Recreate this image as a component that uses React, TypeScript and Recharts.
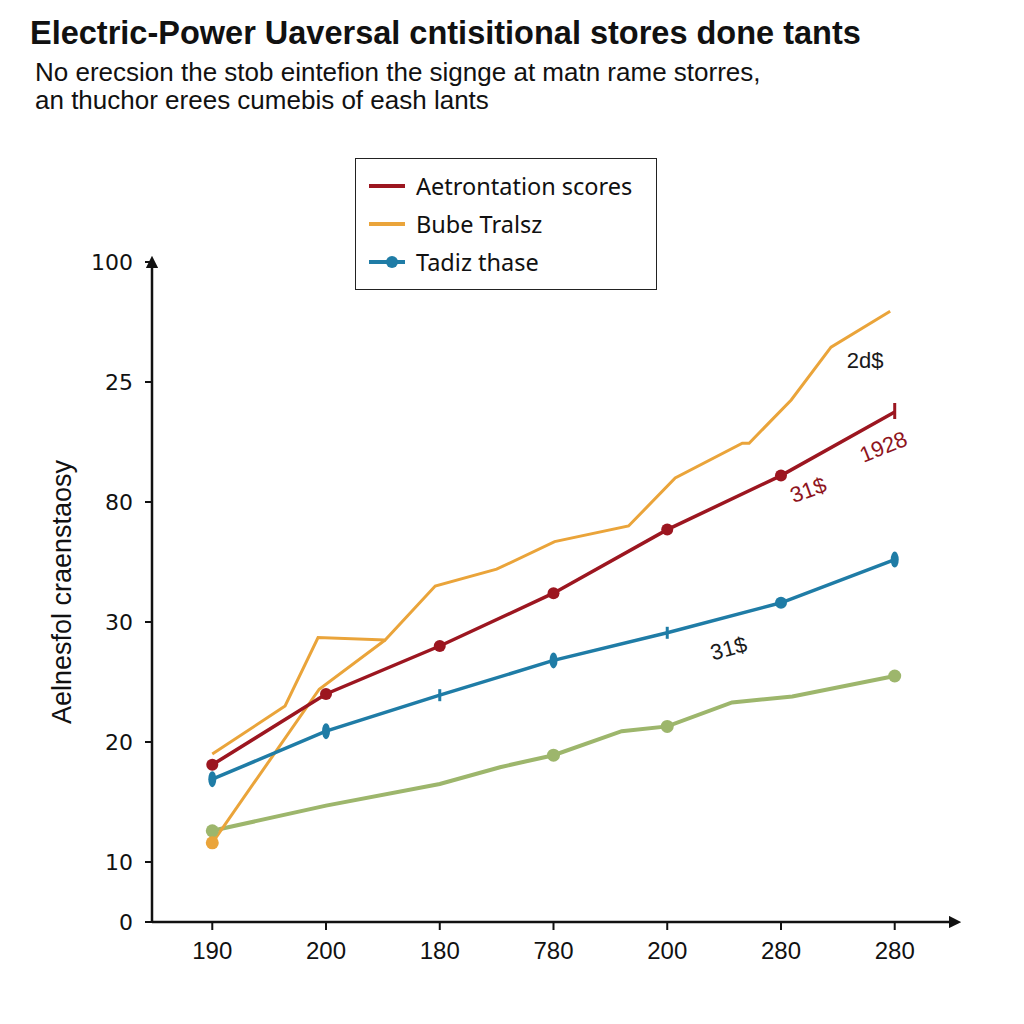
import React from "react";
import {
  Legend,
  Line,
  LineChart,
  ReferenceDot,
  XAxis,
  YAxis
} from "recharts";

// x positions are category slots (0..6), y values are in axis units
const xTickLabels = ["190", "200", "180", "780", "200", "280", "280"];
const xTicks = [0, 1, 2, 3, 4, 5, 6];
const yTicks = [5, 10, 20, 30, 40, 50, 60];
const yTickLabels = ["0", "10", "20", "30", "80", "25", "100"];

const redX = [0, 1, 2, 3, 4, 5, 6];
const redY = [18.1, 24.0, 28.0, 32.4, 37.7, 42.2, 47.5];

const orangeX = [0, 0.64, 0.93, 1.52, 1.96, 2.5, 3.01, 3.66, 4.07, 4.66, 4.72, 5.09, 5.44, 5.96];
const orangeY = [19.0, 23.0, 28.7, 28.5, 33.0, 34.4, 36.7, 38.0, 42.0, 44.9, 44.9, 48.5, 52.9, 55.9];

const orangeLowX = [0, 0.94, 1.52];
const orangeLowY = [11.6, 24.4, 28.5];

const blueX = [0, 1, 2, 3, 4, 5, 6];
const blueY = [16.9, 20.9, 23.9, 26.8, 29.1, 31.6, 35.2];

const greenX = [0, 1, 2, 2.53, 3, 3.6, 4, 4.57, 5.1, 6];
const greenY = [12.6, 14.7, 16.5, 17.9, 18.9, 20.9, 21.3, 23.3, 23.8, 25.5];

const annotations = [
  { x: 5.74, y: 51.8, text: "2d$", color: "#1a1a1a", angle: 0 },
  { x: 5.9, y: 44.6, text: "1928", color: "#8e1420", angle: -22 },
  { x: 5.24, y: 41.0, text: "31$", color: "#8e1420", angle: -20 },
  { x: 4.54, y: 27.8, text: "31$", color: "#1a1a1a", angle: -15 }
];

const toPoints = (xs: number[], ys: number[]) =>
  xs.map((x, i) => ({ x, y: ys[i] }));

const redData = toPoints(redX, redY);
const orangeData = toPoints(orangeX, orangeY);
const orangeLowData = toPoints(orangeLowX, orangeLowY);
const blueData = toPoints(blueX, blueY);
const greenData = toPoints(greenX, greenY);

const RED = "#9c1620";
const ORANGE = "#eaa43a";
const BLUE = "#1f7ca6";
const GREEN = "#9db66c";

const markerSeries = new Set(["Tadiz thase"]);

function RedDot(props: any) {
  const { cx, cy, index } = props;
  if (index === 6) {
    return <line key={index} x1={cx} y1={cy - 9} x2={cx} y2={cy + 7} stroke={RED} strokeWidth={3} />;
  }
  return <circle key={index} cx={cx} cy={cy} r={6} fill={RED} />;
}

function BlueDot(props: any) {
  const { cx, cy, index } = props;
  if (index === 5) return <circle key={index} cx={cx} cy={cy} r={6} fill={BLUE} />;
  if (index === 2 || index === 4) {
    return <line key={index} x1={cx} y1={cy - 6} x2={cx} y2={cy + 6} stroke={BLUE} strokeWidth={3} />;
  }
  return <ellipse key={index} cx={cx} cy={cy} rx={4} ry={8} fill={BLUE} />;
}

const greenDotIdx = new Set([0, 4, 6, 9]);
function GreenDot(props: any) {
  const { cx, cy, index } = props;
  if (!greenDotIdx.has(index)) return <g key={index} />;
  return <circle key={index} cx={cx} cy={cy} r={6.5} fill={GREEN} />;
}

function OrangeLowDot(props: any) {
  const { cx, cy, index } = props;
  if (index !== 0) return <g key={index} />;
  return <circle key={index} cx={cx} cy={cy} r={6.5} fill={ORANGE} />;
}

function LegendBox(props: any) {
  const items = (props.payload || []).filter((p: any) => p.type !== "none");
  return (
    <div
      style={{
        border: "1.5px solid #222",
        background: "#fff",
        padding: "8px 12px",
        width: 276,
        fontFamily: "'Noto Sans', sans-serif",
        fontSize: 23.5,
        color: "#111",
        textAlign: "left"
      }}
    >
      {items.map((item: any) => (
        <div key={item.value} style={{ display: "flex", alignItems: "center", height: 38 }}>
          <svg width={38} height={14} style={{ marginRight: 10 }}>
            <line x1={1} y1={7} x2={37} y2={7} stroke={item.color} strokeWidth={4} />
            {markerSeries.has(item.value) ? <circle cx={24} cy={7} r={6} fill={item.color} /> : null}
          </svg>
          <span>{item.value}</span>
        </div>
      ))}
    </div>
  );
}

function AnnotationShape(props: any) {
  const { cx, cy, text, color, angle } = props;
  return (
    <text
      x={cx}
      y={cy}
      fill={color}
      fontSize={22}
      fontFamily="'Liberation Sans', sans-serif"
      textAnchor="middle"
      dominantBaseline="central"
      transform={`rotate(${angle} ${cx} ${cy})`}
    >
      {text}
    </text>
  );
}

function YLabel(props: any) {
  const { viewBox } = props;
  const x = viewBox.x + 62;
  const y = viewBox.y + viewBox.height / 2;
  return (
    <text
      x={x}
      y={y}
      fontSize={27}
      fill="#111"
      fontFamily="'Liberation Sans', sans-serif"
      textAnchor="middle"
      dominantBaseline="central"
      transform={`rotate(-90 ${x} ${y})`}
    >
      Aelnesfol craenstaosy
    </text>
  );
}

export default function App() {
  return (
    <div
      style={{
        position: "absolute",
        left: 0,
        top: 0,
        width: 1024,
        height: 1024,
        background: "#fff",
        overflow: "hidden"
      }}
    >
      <svg width={0} height={0} style={{ position: "absolute" }}>
        <defs>
          <marker id="arrowHead" viewBox="0 0 10 10" refX="5" refY="5" markerWidth="5" markerHeight="5" orient="auto-start-reverse">
            <path d="M0,0 L10,5 L0,10 z" fill="#111" />
          </marker>
        </defs>
      </svg>
      <div
        style={{
          position: "absolute",
          left: 30,
          top: 15,
          fontFamily: "'Liberation Sans', sans-serif",
          fontWeight: 700,
          fontSize: 32.5,
          color: "#111",
          whiteSpace: "nowrap"
        }}
      >
        Electric-Power Uaversal cntisitional stores done tants
      </div>
      <div
        style={{
          position: "absolute",
          left: 35,
          top: 58,
          fontFamily: "'Liberation Sans', sans-serif",
          fontSize: 26,
          lineHeight: "28px",
          color: "#111",
          whiteSpace: "nowrap"
        }}
      >
        No erecsion the stob eintefion the signge at matn rame storres,
        <br />
        an thuchor erees cumebis of eash lants
      </div>
      <LineChart
        width={1024}
        height={1024}
        margin={{ top: 262, right: 69, bottom: 42, left: 0 }}
        style={{ position: "absolute", left: 0, top: 0 }}
      >
        <XAxis
          dataKey="x"
          type="number"
          domain={[-0.53, 6.53]}
          ticks={xTicks}
          allowDataOverflow
          height={60}
          tickSize={8}
          tickMargin={12}
          tickFormatter={(v: number) => xTickLabels[v] ?? ""}
          axisLine={{ stroke: "#111", strokeWidth: 2.5, markerEnd: "url(#arrowHead)" }}
          tickLine={{ stroke: "#111", strokeWidth: 2 }}
          tick={{ fill: "#111", fontSize: 24, fontFamily: "'Liberation Sans', sans-serif" }}
        />
        <YAxis
          dataKey="y"
          type="number"
          domain={[5, 60]}
          ticks={yTicks}
          allowDataOverflow
          width={152}
          tickSize={7}
          tickMargin={12}
          tickFormatter={(v: number) => yTickLabels[yTicks.indexOf(v)] ?? ""}
          axisLine={{ stroke: "#111", strokeWidth: 2.5, markerStart: "url(#arrowHead)" }}
          tickLine={{ stroke: "#111", strokeWidth: 2 }}
          tick={{ fill: "#111", fontSize: 22, fontFamily: "'DejaVu Sans', sans-serif" }}
          label={<YLabel />}
        />
        <Legend
          layout="horizontal"
          verticalAlign="middle"
          align="center"
          content={<LegendBox />}
          wrapperStyle={{ position: "absolute", left: 355, top: 158, width: 304, height: 130 }}
        />
        <Line
          data={greenData}
          dataKey="y"
          name="green"
          legendType="none"
          stroke={GREEN}
          strokeWidth={4}
          dot={<GreenDot />}
          isAnimationActive={false}
        />
        <Line
          data={orangeLowData}
          dataKey="y"
          name="orange-low"
          legendType="none"
          stroke={ORANGE}
          strokeWidth={3}
          dot={<OrangeLowDot />}
          isAnimationActive={false}
        />
        <Line
          data={orangeData}
          dataKey="y"
          name="Bube Tralsz"
          stroke={ORANGE}
          strokeWidth={3}
          dot={false}
          isAnimationActive={false}
        />
        <Line
          data={blueData}
          dataKey="y"
          name="Tadiz thase"
          stroke={BLUE}
          strokeWidth={3.5}
          dot={<BlueDot />}
          isAnimationActive={false}
        />
        <Line
          data={redData}
          dataKey="y"
          name="Aetrontation scores"
          stroke={RED}
          strokeWidth={3.5}
          dot={<RedDot />}
          isAnimationActive={false}
        />
        {annotations.map((a, i) => (
          <ReferenceDot
            key={i}
            x={a.x}
            y={a.y}
            r={0}
            ifOverflow="visible"
            shape={(p: any) => <AnnotationShape {...p} text={a.text} color={a.color} angle={a.angle} />}
          />
        ))}
      </LineChart>
    </div>
  );
}
